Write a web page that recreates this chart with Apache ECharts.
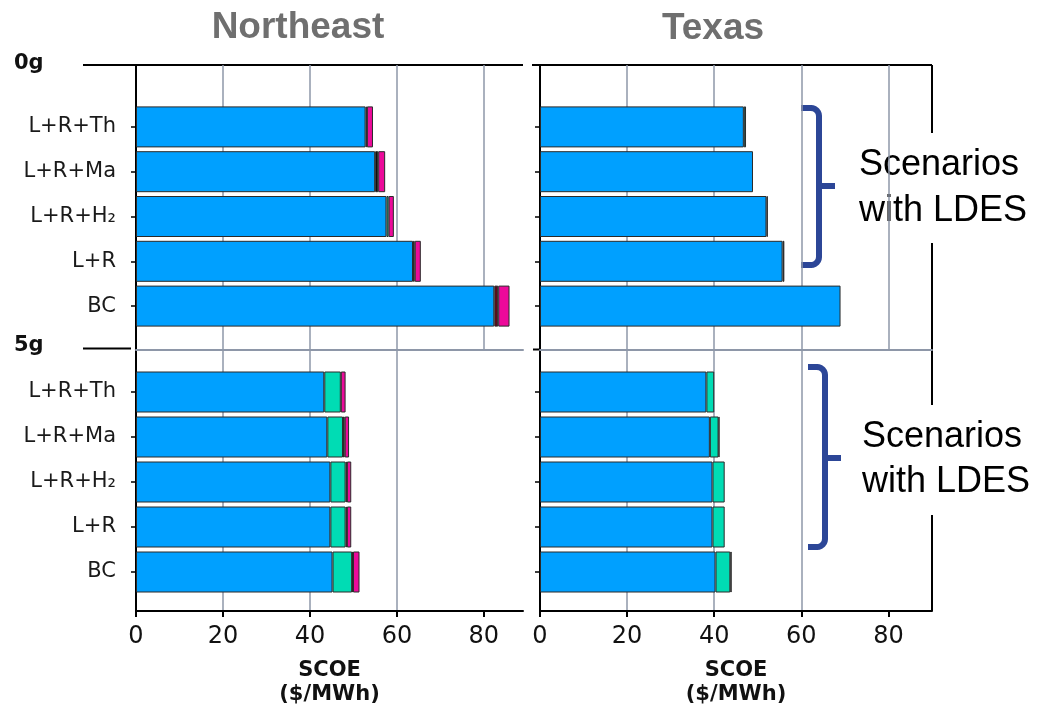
<!DOCTYPE html>
<html>
<head>
<meta charset="utf-8">
<title>SCOE by scenario</title>
<script src="https://cdn.jsdelivr.net/npm/echarts@6/dist/echarts.min.js"></script>
<style>
  html, body { margin: 0; padding: 0; background: #ffffff; }
  #chart { width: 1050px; height: 712px; }
</style>
</head>
<body>
<div id="chart"></div>
<script>
// Scenario labels, top to bottom
const categories = ['L+R+Th', 'L+R+Ma', 'L+R+H₂', 'L+R', 'BC'];
const xTicks = [0, 20, 40, 60, 80];

// Cost components ($/MWh), one array per stacked segment
// Northeast, 0g
const ne0Blue    = [52.8, 55.0, 57.6, 63.7, 82.4];
const ne0Teal    = [0, 0, 0.5, 0, 0];
const ne0Black   = [0.3, 0.7, 0, 0.4, 0];
const ne0DarkRed = [0, 0, 0, 0, 0.9];
const ne0Magenta = [1.4, 1.6, 1.2, 1.4, 2.6];
// Northeast, 5g
const ne5Blue    = [43.3, 44.0, 44.7, 44.7, 45.2];
const ne5Teal    = [3.8, 3.6, 3.5, 3.5, 4.5];
const ne5Black   = [0, 0.4, 0.3, 0.3, 0.2];
const ne5DarkRed = [0, 0, 0, 0, 0];
const ne5Magenta = [1.1, 1.0, 1.0, 1.0, 1.5];
// Texas, 0g
const tx0Blue    = [46.8, 48.9, 52.0, 55.7, 69.0];
const tx0Teal    = [0.5, 0, 0, 0, 0];
const tx0Black   = [0, 0, 0.3, 0.4, 0];
const tx0DarkRed = [0, 0, 0, 0, 0];
const tx0Magenta = [0, 0, 0, 0, 0];
// Texas, 5g
const tx5Blue    = [38.2, 39.0, 39.6, 39.6, 40.3];
const tx5Teal    = [1.8, 2.0, 2.8, 2.8, 3.4];
const tx5Black   = [0, 0.2, 0, 0, 0.3];
const tx5DarkRed = [0, 0, 0, 0, 0];
const tx5Magenta = [0, 0, 0, 0, 0];

const segmentNames = ['Blue', 'Teal', 'Black', 'DarkRed', 'Magenta'];
const segmentColors = ['#00a0ff', '#00dcb4', '#0a0a0a', '#5c0a1c', '#ec0a9a'];

const panels = [
  { stack: 'ne0', segs: [ne0Blue, ne0Teal, ne0Black, ne0DarkRed, ne0Magenta] },
  { stack: 'ne5', segs: [ne5Blue, ne5Teal, ne5Black, ne5DarkRed, ne5Magenta] },
  { stack: 'tx0', segs: [tx0Blue, tx0Teal, tx0Black, tx0DarkRed, tx0Magenta] },
  { stack: 'tx5', segs: [tx5Blue, tx5Teal, tx5Black, tx5DarkRed, tx5Magenta] }
];

// Layout
const NE = { left: 136, width: 387, max: 89 };
const TX = { left: 540, width: 392, max: 90 };
const FRAME_TOP = 65, MID = 349.5, AXIS_Y = 611;
const BARS_TOP = { top: 104.5, height: 224 };
const BARS_BOT = { top: 369.5, height: 225 };

const gridColor = '#8e97a8';
const axisFont = 'DejaVu Sans';

const grids = [
  // frames: 0 NE top, 1 NE bottom, 2 TX top, 3 TX bottom
  { left: NE.left, width: NE.width, top: FRAME_TOP, height: MID - FRAME_TOP },
  { left: NE.left, width: NE.width, top: MID, height: AXIS_Y - MID },
  { left: TX.left, width: TX.width, top: FRAME_TOP, height: MID - FRAME_TOP },
  { left: TX.left, width: TX.width, top: MID, height: AXIS_Y - MID },
  // bars: 4 NE 0g, 5 NE 5g, 6 TX 0g, 7 TX 5g
  { left: NE.left, width: NE.width, top: BARS_TOP.top, height: BARS_TOP.height },
  { left: NE.left, width: NE.width, top: BARS_BOT.top, height: BARS_BOT.height },
  { left: TX.left, width: TX.width, top: BARS_TOP.top, height: BARS_TOP.height },
  { left: TX.left, width: TX.width, top: BARS_BOT.top, height: BARS_BOT.height }
];

function frameX(idx, region, isBottom) {
  return {
    type: 'value', gridIndex: idx, min: 0, max: region.max, interval: 20,
    position: 'bottom',
    axisLine: { show: true, onZero: false, lineStyle: isBottom ? { color: '#000', width: 2 } : { color: gridColor, width: 2 } },
    axisTick: isBottom ? { show: true, inside: false, length: 6, lineStyle: { color: '#000', width: 2 }, customValues: xTicks } : { show: false },
    axisLabel: isBottom ? { show: true, customValues: xTicks, fontFamily: axisFont, fontSize: 24, color: '#111', margin: 14 } : { show: false },
    splitLine: { show: true, showMinLine: false, showMaxLine: false, lineStyle: { color: gridColor, width: 1.5 } },
    name: isBottom ? 'SCOE\n($/MWh)' : '',
    nameLocation: 'middle',
    nameGap: 48,
    nameTextStyle: { fontFamily: axisFont, fontWeight: 'bold', fontSize: 21, color: '#111', lineHeight: 24 }
  };
}
function frameY(idx) {
  return {
    type: 'value', gridIndex: idx, min: 0, max: 1,
    axisLine: { show: true, lineStyle: { color: '#000', width: 2 } },
    axisTick: { show: false }, axisLabel: { show: false }, splitLine: { show: false }
  };
}
function barX(idx, region) {
  return { type: 'value', gridIndex: idx, min: 0, max: region.max, show: false };
}
function barY(idx, withLabels) {
  return {
    type: 'category', gridIndex: idx, data: categories, inverse: true,
    axisLine: { show: false },
    axisTick: { show: true, alignWithLabel: true, length: 5, lineStyle: { color: '#000', width: 1.5 } },
    axisLabel: { show: withLabels, fontFamily: axisFont, fontSize: 21, color: '#1a1a1a', margin: 20 },
    splitLine: { show: false }
  };
}

const xAxes = [
  frameX(0, NE, false), frameX(1, NE, true), frameX(2, TX, false), frameX(3, TX, true),
  barX(4, NE), barX(5, NE), barX(6, TX), barX(7, TX)
];
const yAxes = [
  frameY(0), frameY(1), frameY(2), frameY(3),
  barY(4, true), barY(5, true), barY(6, false), barY(7, false)
];

const series = [];
panels.forEach((p, pi) => {
  p.segs.forEach((vals, si) => {
    series.push({
      type: 'bar', name: segmentNames[si], stack: p.stack,
      xAxisIndex: 4 + pi, yAxisIndex: 4 + pi,
      barWidth: 41,
      itemStyle: { color: segmentColors[si], borderColor: '#2a2a2a', borderWidth: 1 },
      data: vals.map(v => (v === 0 ? '-' : v))
    });
  });
});

// Curly braces beside the Texas panel, drawn as polylines with rounded corners
function corner(cx, cy, r, a0, a1) {
  const pts = [];
  for (let i = 0; i <= 6; i++) {
    const a = a0 + (a1 - a0) * i / 6;
    pts.push([cx + r * Math.cos(a), cy + r * Math.sin(a)]);
  }
  return pts;
}
function bracePoints(xArm, xSpine, y1, y2) {
  const r = 8;
  return [[xArm, y1]]
    .concat(corner(xSpine - r, y1 + r, r, -Math.PI / 2, 0))
    .concat(corner(xSpine - r, y2 - r, r, 0, Math.PI / 2))
    .concat([[xArm, y2]]);
}
const braceStyle = { stroke: '#2c4697', lineWidth: 6, fill: null, lineJoin: 'round' };
const noteFont = { fontFamily: 'Liberation Sans', fontSize: 36, fill: '#000' };

const graphic = [
  { type: 'text', x: 298, y: 28, style: { text: 'Northeast', fontFamily: 'Liberation Sans', fontWeight: 'bold', fontSize: 37, fill: '#6f6f6f', textAlign: 'center', textVerticalAlign: 'middle' } },
  { type: 'text', x: 713, y: 29, style: { text: 'Texas', fontFamily: 'Liberation Sans', fontWeight: 'bold', fontSize: 37, fill: '#6f6f6f', textAlign: 'center', textVerticalAlign: 'middle' } },
  { type: 'text', x: 14, y: 64, style: { text: '0g', fontFamily: axisFont, fontWeight: 'bold', fontSize: 21, fill: '#111', textAlign: 'left', textVerticalAlign: 'middle' } },
  { type: 'text', x: 14, y: 346, style: { text: '5g', fontFamily: axisFont, fontWeight: 'bold', fontSize: 21, fill: '#111', textAlign: 'left', textVerticalAlign: 'middle' } },
  // panel borders
  { type: 'line', shape: { x1: 83, y1: FRAME_TOP, x2: NE.left + NE.width, y2: FRAME_TOP }, style: { stroke: '#000', lineWidth: 2 } },
  { type: 'line', shape: { x1: 83, y1: MID - 1, x2: 131, y2: MID - 1 }, style: { stroke: '#000', lineWidth: 2 } },
  { type: 'line', shape: { x1: 532, y1: FRAME_TOP, x2: TX.left + TX.width, y2: FRAME_TOP }, style: { stroke: '#000', lineWidth: 2 } },
  { type: 'line', shape: { x1: 533, y1: MID, x2: TX.left, y2: MID }, style: { stroke: '#000', lineWidth: 2 } },
  { type: 'line', shape: { x1: TX.left + TX.width, y1: FRAME_TOP, x2: TX.left + TX.width, y2: AXIS_Y }, style: { stroke: '#000', lineWidth: 2 } },
  // note backgrounds
  { type: 'rect', shape: { x: 848, y: 133, width: 197, height: 110 }, style: { fill: '#fff' } },
  { type: 'rect', shape: { x: 848, y: 405, width: 197, height: 110 }, style: { fill: '#fff' } },
  // braces
  { type: 'polyline', shape: { points: bracePoints(801, 819, 108, 265) }, style: braceStyle },
  { type: 'line', shape: { x1: 819, y1: 186, x2: 835, y2: 186 }, style: { stroke: '#2c4697', lineWidth: 6 } },
  { type: 'polyline', shape: { points: bracePoints(808, 825, 367, 547) }, style: braceStyle },
  { type: 'line', shape: { x1: 825, y1: 458, x2: 841, y2: 458 }, style: { stroke: '#2c4697', lineWidth: 6 } },
  // notes
  { type: 'text', x: 859, y: 165, style: Object.assign({ text: 'Scenarios', textVerticalAlign: 'middle' }, noteFont) },
  { type: 'text', x: 859, y: 211, style: Object.assign({ text: 'with LDES', textVerticalAlign: 'middle' }, noteFont) },
  { type: 'text', x: 862, y: 437, style: Object.assign({ text: 'Scenarios', textVerticalAlign: 'middle' }, noteFont) },
  { type: 'text', x: 862, y: 482, style: Object.assign({ text: 'with LDES', textVerticalAlign: 'middle' }, noteFont) }
];

const chart = echarts.init(document.getElementById('chart'), null, { renderer: 'canvas' });
chart.setOption({
  animation: false,
  backgroundColor: '#ffffff',
  grid: grids,
  xAxis: xAxes,
  yAxis: yAxes,
  series: series,
  graphic: graphic
});
</script>
</body>
</html>
